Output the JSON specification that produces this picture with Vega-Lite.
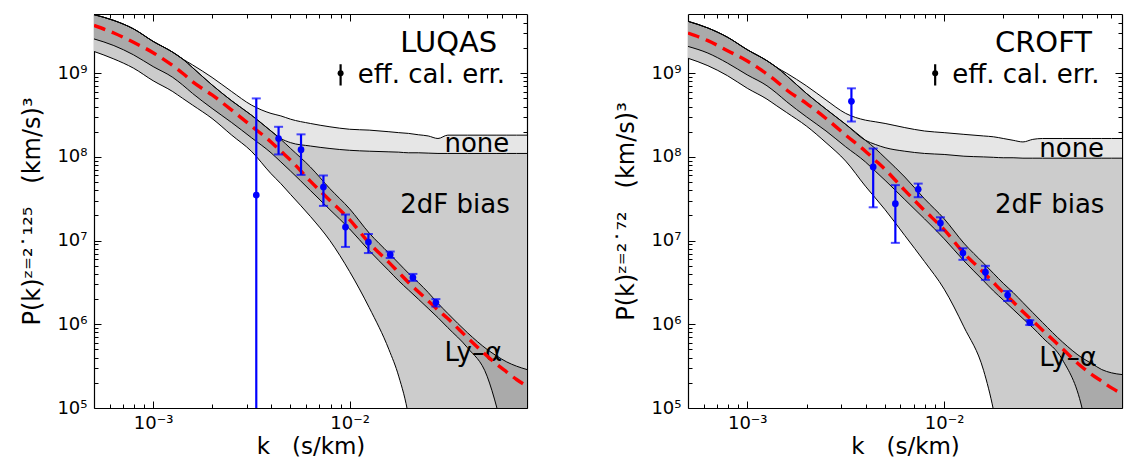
{
  "$schema": "https://vega.github.io/schema/vega-lite/v6.json",
  "background": "white",
  "padding": {"left": 20, "top": 13, "right": 2, "bottom": 0},
  "spacing": 86,
  "config": {
    "view": {"stroke": null},
    "font": "DejaVu Sans",
    "axis": {"grid": false, "domainColor": "black", "domainWidth": 1.2, "tickColor": "black", "tickWidth": 1, "labelColor": "black", "titleColor": "black", "labelFont": "DejaVu Sans", "titleFont": "DejaVu Sans", "labelFontSize": 18, "titleFontSize": 24, "titleFontWeight": "normal", "zindex": 1, "labelOverlap": false, "labelFlush": false}
  },
  "datasets": {
    "curvesL": [
      {"k":0.0005,"A":5.01e9,"B":5.01e9,"C":5.01e9,"D":2.57e9,"E":1.82e9,"R":3.72e9},
      {"k":0.000631,"A":4.27e9,"B":4.27e9,"C":4.27e9,"D":2.14e9,"E":1.48e9,"R":3.02e9},
      {"k":0.000794,"A":3.39e9,"B":3.39e9,"C":3.39e9,"D":1.66e9,"E":1.15e9,"R":2.34e9},
      {"k":0.001,"A":2.40e9,"B":2.40e9,"C":2.40e9,"D":1.20e9,"E":8.13e8,"R":1.76e9},
      {"k":0.001259,"A":1.78e9,"B":1.78e9,"C":1.78e9,"D":8.91e8,"E":6.03e8,"R":1.23e9},
      {"k":0.001413,"A":1.48e9,"B":1.48e9,"C":1.48e9,"D":7.24e8,"E":5.01e8,"R":1.00e9},
      {"k":0.001585,"A":1.26e9,"B":1.17e9,"C":1.17e9,"D":5.75e8,"E":4.17e8,"R":7.94e8},
      {"k":0.001995,"A":8.91e8,"B":7.24e8,"C":7.24e8,"D":3.80e8,"E":2.88e8,"R":5.50e8},
      {"k":0.002512,"A":6.03e8,"B":4.68e8,"C":4.68e8,"D":2.57e8,"E":1.82e8,"R":3.63e8},
      {"k":0.003162,"A":4.17e8,"B":3.16e8,"C":3.16e8,"D":1.70e8,"E":1.17e8,"R":2.34e8},
      {"k":0.003981,"A":3.31e8,"B":2.04e8,"C":2.04e8,"D":1.12e8,"E":6.31e7,"R":1.51e8},
      {"k":0.004467,"A":3.09e8,"B":1.66e8,"C":1.62e8,"D":8.71e7,"E":4.79e7,"R":1.17e8},
      {"k":0.005012,"A":2.82e8,"B":1.48e8,"C":1.26e8,"D":6.76e7,"E":3.55e7,"R":9.12e7},
      {"k":0.00631,"A":2.51e8,"B":1.35e8,"C":7.59e7,"D":3.98e7,"E":1.95e7,"R":5.13e7},
      {"k":0.007943,"A":2.29e8,"B":1.26e8,"C":4.17e7,"D":2.34e7,"E":1.00e7,"R":3.02e7},
      {"k":0.01,"A":2.14e8,"B":1.20e8,"C":2.40e7,"D":1.38e7,"E":4.27e6,"R":1.78e7},
      {"k":0.01259,"A":2.09e8,"B":1.17e8,"C":1.23e7,"D":7.59e6,"E":1.58e6,"R":9.33e6},
      {"k":0.01585,"A":2.00e8,"B":1.15e8,"C":7.08e6,"D":4.37e6,"E":5.01e5,"R":5.50e6},
      {"k":0.01778,"A":1.95e8,"B":1.14e8,"C":5.37e6,"D":3.31e6,"E":2.40e5,"R":4.17e6},
      {"k":0.01995,"A":1.91e8,"B":1.12e8,"C":4.07e6,"D":2.57e6,"E":7.94e4,"R":3.16e6},
      {"k":0.02239,"A":1.84e8,"B":1.12e8,"C":3.16e6,"D":2.00e6,"E":1.0e4,"R":2.45e6},
      {"k":0.02512,"A":1.78e8,"B":1.11e8,"C":2.40e6,"D":1.55e6,"E":1.0e3,"R":1.91e6},
      {"k":0.02818,"A":1.66e8,"B":1.10e8,"C":1.78e6,"D":1.20e6,"E":1.0e3,"R":1.48e6},
      {"k":0.03162,"A":1.82e8,"B":1.10e8,"C":1.35e6,"D":9.12e5,"E":1.0e3,"R":1.17e6},
      {"k":0.03981,"A":1.82e8,"B":1.10e8,"C":7.94e5,"D":5.25e5,"E":1.0e3,"R":6.92e5},
      {"k":0.05012,"A":1.82e8,"B":1.10e8,"C":5.01e5,"D":2.40e5,"E":1.0e3,"R":4.17e5},
      {"k":0.05623,"A":1.82e8,"B":1.10e8,"C":4.17e5,"D":1.0e5,"E":1.0e3,"R":3.31e5},
      {"k":0.0631,"A":1.82e8,"B":1.10e8,"C":3.55e5,"D":3.16e4,"E":1.0e3,"R":2.69e5},
      {"k":0.07079,"A":1.82e8,"B":1.10e8,"C":3.16e5,"D":6.31e3,"E":1.0e3,"R":2.19e5},
      {"k":0.08,"A":1.82e8,"B":1.10e8,"C":2.88e5,"D":1.0e3,"E":1.0e3,"R":1.82e5}
    ],
    "curvesR": [
      {"k":0.0005,"A":4.17e9,"B":4.17e9,"C":4.17e9,"D":2.09e9,"E":1.51e9,"R":3.02e9},
      {"k":0.000631,"A":3.47e9,"B":3.47e9,"C":3.47e9,"D":1.74e9,"E":1.23e9,"R":2.45e9},
      {"k":0.000794,"A":2.69e9,"B":2.69e9,"C":2.69e9,"D":1.32e9,"E":9.33e8,"R":1.86e9},
      {"k":0.001,"A":1.91e9,"B":1.91e9,"C":1.91e9,"D":9.55e8,"E":6.61e8,"R":1.40e9},
      {"k":0.001259,"A":1.41e9,"B":1.41e9,"C":1.41e9,"D":7.08e8,"E":4.90e8,"R":9.77e8},
      {"k":0.001413,"A":1.17e9,"B":1.17e9,"C":1.17e9,"D":5.75e8,"E":4.07e8,"R":7.94e8},
      {"k":0.001585,"A":1.00e9,"B":9.33e8,"C":9.33e8,"D":4.57e8,"E":3.39e8,"R":6.31e8},
      {"k":0.001995,"A":7.08e8,"B":5.75e8,"C":5.75e8,"D":3.02e8,"E":2.34e8,"R":4.37e8},
      {"k":0.002512,"A":4.79e8,"B":3.72e8,"C":3.72e8,"D":2.04e8,"E":1.48e8,"R":2.88e8},
      {"k":0.003162,"A":3.31e8,"B":2.45e8,"C":2.45e8,"D":1.32e8,"E":8.91e7,"R":1.82e8},
      {"k":0.003981,"A":2.75e8,"B":1.58e8,"C":1.58e8,"D":8.71e7,"E":4.47e7,"R":1.17e8},
      {"k":0.004467,"A":2.63e8,"B":1.41e8,"C":1.26e8,"D":6.76e7,"E":3.24e7,"R":9.12e7},
      {"k":0.005012,"A":2.51e8,"B":1.29e8,"C":9.77e7,"D":5.25e7,"E":2.34e7,"R":7.08e7},
      {"k":0.00631,"A":2.24e8,"B":1.17e8,"C":5.75e7,"D":3.09e7,"E":1.15e7,"R":3.98e7},
      {"k":0.007943,"A":2.04e8,"B":1.10e8,"C":3.16e7,"D":1.82e7,"E":5.62e6,"R":2.29e7},
      {"k":0.01,"A":1.95e8,"B":1.07e8,"C":1.82e7,"D":1.05e7,"E":2.63e6,"R":1.35e7},
      {"k":0.01259,"A":1.86e8,"B":1.02e8,"C":9.33e6,"D":5.75e6,"E":9.33e5,"R":7.08e6},
      {"k":0.01585,"A":1.78e8,"B":1.00e8,"C":5.37e6,"D":3.31e6,"E":2.82e5,"R":4.17e6},
      {"k":0.01778,"A":1.74e8,"B":9.89e7,"C":4.07e6,"D":2.51e6,"E":9.55e4,"R":3.16e6},
      {"k":0.01995,"A":1.66e8,"B":9.77e7,"C":3.09e6,"D":1.95e6,"E":2.0e4,"R":2.40e6},
      {"k":0.02239,"A":1.58e8,"B":9.77e7,"C":2.40e6,"D":1.51e6,"E":1.0e3,"R":1.86e6},
      {"k":0.02512,"A":1.51e8,"B":9.66e7,"C":1.82e6,"D":1.17e6,"E":1.0e3,"R":1.41e6},
      {"k":0.02818,"A":1.62e8,"B":9.66e7,"C":1.38e6,"D":9.12e5,"E":1.0e3,"R":1.10e6},
      {"k":0.03162,"A":1.66e8,"B":9.66e7,"C":1.05e6,"D":6.92e5,"E":1.0e3,"R":8.51e5},
      {"k":0.03981,"A":1.66e8,"B":9.66e7,"C":6.17e5,"D":3.80e5,"E":1.0e3,"R":5.13e5},
      {"k":0.05012,"A":1.66e8,"B":9.66e7,"C":3.98e5,"D":1.0e5,"E":1.0e3,"R":3.09e5},
      {"k":0.05623,"A":1.66e8,"B":9.66e7,"C":3.39e5,"D":2.51e4,"E":1.0e3,"R":2.51e5},
      {"k":0.0631,"A":1.66e8,"B":9.66e7,"C":2.88e5,"D":3.98e3,"E":1.0e3,"R":2.09e5},
      {"k":0.07079,"A":1.66e8,"B":9.66e7,"C":2.63e5,"D":1.0e3,"E":1.0e3,"R":1.74e5},
      {"k":0.08,"A":1.66e8,"B":9.66e7,"C":2.51e5,"D":1.0e3,"E":1.0e3,"R":1.48e5}
    ],
    "pointsL": [
      {"k":0.00335,"P":3.5e7,"lo":1e4,"hi":5.0e8},
      {"k":0.00435,"P":1.66e8,"lo":1.07e8,"hi":2.29e8},
      {"k":0.00566,"P":1.22e8,"lo":6.1e7,"hi":1.86e8},
      {"k":0.00736,"P":4.37e7,"lo":2.6e7,"hi":6.0e7},
      {"k":0.00953,"P":1.45e7,"lo":8.4e6,"hi":2.05e7},
      {"k":0.01247,"P":9.6e6,"lo":7.1e6,"hi":1.2e7},
      {"k":0.0161,"P":6.8e6,"lo":6.2e6,"hi":7.4e6},
      {"k":0.021,"P":3.63e6,"lo":3.3e6,"hi":4.0e6},
      {"k":0.0275,"P":1.82e6,"lo":1.63e6,"hi":2.0e6}
    ],
    "pointsR": [
      {"k":0.00338,"P":4.62e8,"lo":2.65e8,"hi":6.6e8},
      {"k":0.00436,"P":7.6e7,"lo":2.5e7,"hi":1.26e8},
      {"k":0.00565,"P":2.76e7,"lo":9.4e6,"hi":4.6e7},
      {"k":0.00738,"P":4.1e7,"lo":3.3e7,"hi":4.8e7},
      {"k":0.00957,"P":1.62e7,"lo":1.32e7,"hi":1.9e7},
      {"k":0.01245,"P":7.1e6,"lo":5.9e6,"hi":8.1e6},
      {"k":0.0162,"P":4.2e6,"lo":3.4e6,"hi":5.0e6},
      {"k":0.021,"P":2.24e6,"lo":1.9e6,"hi":2.5e6},
      {"k":0.0272,"P":1.05e6,"lo":0.98e6,"hi":1.12e6}
    ],
    "keysym": [{"k":0.009,"P":1.0e9,"lo":7.13e8,"hi":1.28e9}],
    "titleL": [{"k":0.0181,"P":1.81e9,"label":"LUQAS"}],
    "titleR": [{"k":0.0181,"P":1.81e9,"label":"CROFT"}],
    "labelsL": [
      {"k":0.01101,"P":7.6e8,"label":"eff. cal. err."},
      {"k":0.0304,"P":1.16e8,"label":"none"},
      {"k":0.0181,"P":2.11e7,"label":"2dF bias"},
      {"k":0.0304,"P":3.63e5,"label":"Ly–α"}
    ],
    "labelsR": [
      {"k":0.0110,"P":7.6e8,"label":"eff. cal. err."},
      {"k":0.0304,"P":1.01e8,"label":"none"},
      {"k":0.0181,"P":2.11e7,"label":"2dF bias"},
      {"k":0.0304,"P":3.16e5,"label":"Ly–α"}
    ]
  },
  "hconcat": [
    {
      "width": 433, "height": 394,
      "resolve": {"axis": {"x": "independent", "y": "independent"}},
      "layer": [
        {"data": {"name": "curvesL"}, "mark": {"type": "area", "clip": true, "interpolate": "monotone", "color": "#e6e6e6"},
         "encoding": {
           "x": {"field": "k", "type": "quantitative", "scale": {"type": "log", "domain": [0.0005, 0.08], "nice": false},
             "axis": {"orient": "bottom", "values": [0.0006,0.0007,0.0008,0.0009,0.001,0.002,0.003,0.004,0.005,0.006,0.007,0.008,0.009,0.01,0.02,0.03,0.04,0.05,0.06,0.07],
               "labelExpr": "abs(log(datum.value)/LN10 - round(log(datum.value)/LN10)) < 0.0001 ? '10⁻' + ['⁰','¹','²','³','⁴'][-round(log(datum.value)/LN10)] : ''",
               "tickSize": {"condition": {"test": "abs(log(datum.value)/LN10 - round(log(datum.value)/LN10)) < 0.0001", "value": -7}, "value": -4},
               "labelPadding": 13, "title": "k\u00a0\u00a0\u00a0(s/km)", "titlePadding": 0, "titleFontSize": 23}},
           "y": {"field": "A", "type": "quantitative", "scale": {"type": "log", "domain": [1e5, 5.1e9], "nice": false},
             "axis": {"orient": "left", "values": [1e5,2e5,3e5,4e5,5e5,6e5,7e5,8e5,9e5,1e6,2e6,3e6,4e6,5e6,6e6,7e6,8e6,9e6,1e7,2e7,3e7,4e7,5e7,6e7,7e7,8e7,9e7,1e8,2e8,3e8,4e8,5e8,6e8,7e8,8e8,9e8,1e9,2e9,3e9,4e9],
               "labelExpr": "abs(log(datum.value)/LN10 - round(log(datum.value)/LN10)) < 0.0001 ? '10' + ['⁰','¹','²','³','⁴','⁵','⁶','⁷','⁸','⁹'][round(log(datum.value)/LN10)] : ''",
               "tickSize": {"condition": {"test": "abs(log(datum.value)/LN10 - round(log(datum.value)/LN10)) < 0.0001", "value": -7}, "value": -4},
               "labelPadding": 14, "title": "P(k)ᶻ⁼²˙¹²⁵\u00a0\u00a0\u00a0(km/s)³", "titlePadding": 12}},
           "y2": {"field": "E"}
         }},
        {"data": {"name": "curvesL"}, "mark": {"type": "area", "clip": true, "interpolate": "monotone", "color": "#cccccc"},
         "encoding": {
           "x": {"field": "k", "type": "quantitative", "scale": {"type": "log", "domain": [0.0005, 0.08], "nice": false},
             "axis": {"orient": "top", "values": [0.0006,0.0007,0.0008,0.0009,0.001,0.002,0.003,0.004,0.005,0.006,0.007,0.008,0.009,0.01,0.02,0.03,0.04,0.05,0.06,0.07],
               "labels": false, "title": null,
               "tickSize": {"condition": {"test": "abs(log(datum.value)/LN10 - round(log(datum.value)/LN10)) < 0.0001", "value": -7}, "value": -4}}},
           "y": {"field": "B", "type": "quantitative", "scale": {"type": "log", "domain": [1e5, 5.1e9], "nice": false},
             "axis": {"orient": "right", "values": [1e5,2e5,3e5,4e5,5e5,6e5,7e5,8e5,9e5,1e6,2e6,3e6,4e6,5e6,6e6,7e6,8e6,9e6,1e7,2e7,3e7,4e7,5e7,6e7,7e7,8e7,9e7,1e8,2e8,3e8,4e8,5e8,6e8,7e8,8e8,9e8,1e9,2e9,3e9,4e9],
               "labels": false, "title": null,
               "tickSize": {"condition": {"test": "abs(log(datum.value)/LN10 - round(log(datum.value)/LN10)) < 0.0001", "value": -7}, "value": -4}}},
           "y2": {"field": "E"}
         }},
        {"data": {"name": "curvesL"}, "mark": {"type": "area", "clip": true, "interpolate": "monotone", "color": "#aaaaaa"},
         "encoding": {
           "x": {"field": "k", "type": "quantitative", "scale": {"type": "log", "domain": [0.0005, 0.08], "nice": false}, "axis": null},
           "y": {"field": "C", "type": "quantitative", "scale": {"type": "log", "domain": [1e5, 5.1e9], "nice": false}, "axis": null},
           "y2": {"field": "D"}
         }},
        {"data": {"name": "curvesL"}, "transform": [{"fold": ["A", "B", "C", "D", "E"], "as": ["curve", "val"]}],
         "mark": {"type": "line", "clip": true, "interpolate": "monotone", "color": "black", "strokeWidth": 1},
         "encoding": {
           "x": {"field": "k", "type": "quantitative", "scale": {"type": "log", "domain": [0.0005, 0.08], "nice": false}, "axis": null},
           "y": {"field": "val", "type": "quantitative", "scale": {"type": "log", "domain": [1e5, 5.1e9], "nice": false}, "axis": null},
           "detail": {"field": "curve"}
         }},
        {"data": {"name": "labelsL"}, "mark": {"type": "text", "align": "left", "baseline": "alphabetic", "fontSize": 26, "font": "DejaVu Sans", "color": "black"},
         "encoding": {
           "x": {"field": "k", "type": "quantitative", "scale": {"type": "log", "domain": [0.0005, 0.08], "nice": false}, "axis": null},
           "y": {"field": "P", "type": "quantitative", "scale": {"type": "log", "domain": [1e5, 5.1e9], "nice": false}, "axis": null},
           "text": {"field": "label"}
         }},
        {"data": {"name": "titleL"}, "mark": {"type": "text", "align": "left", "baseline": "alphabetic", "fontSize": 29, "font": "DejaVu Sans", "color": "black"},
         "encoding": {
           "x": {"field": "k", "type": "quantitative", "scale": {"type": "log", "domain": [0.0005, 0.08], "nice": false}, "axis": null},
           "y": {"field": "P", "type": "quantitative", "scale": {"type": "log", "domain": [1e5, 5.1e9], "nice": false}, "axis": null},
           "text": {"field": "label"}
         }},
        {"data": {"name": "curvesL"}, "mark": {"type": "line", "clip": true, "interpolate": "monotone", "color": "#ff0000", "strokeWidth": 3.4, "strokeDash": [12, 7]},
         "encoding": {
           "x": {"field": "k", "type": "quantitative", "scale": {"type": "log", "domain": [0.0005, 0.08], "nice": false}, "axis": null},
           "y": {"field": "R", "type": "quantitative", "scale": {"type": "log", "domain": [1e5, 5.1e9], "nice": false}, "axis": null}
         }},
        {"data": {"name": "pointsL"}, "mark": {"type": "rule", "clip": true, "color": "#0000ff", "strokeWidth": 2.2},
         "encoding": {
           "x": {"field": "k", "type": "quantitative", "scale": {"type": "log", "domain": [0.0005, 0.08], "nice": false}, "axis": null},
           "y": {"field": "lo", "type": "quantitative", "scale": {"type": "log", "domain": [1e5, 5.1e9], "nice": false}, "axis": null},
           "y2": {"field": "hi"}
         }},
        {"data": {"name": "pointsL"}, "mark": {"type": "tick", "orient": "horizontal", "clip": true, "color": "#0000ff", "thickness": 2, "size": 9},
         "encoding": {
           "x": {"field": "k", "type": "quantitative", "scale": {"type": "log", "domain": [0.0005, 0.08], "nice": false}, "axis": null},
           "y": {"field": "lo", "type": "quantitative", "scale": {"type": "log", "domain": [1e5, 5.1e9], "nice": false}, "axis": null}
         }},
        {"data": {"name": "pointsL"}, "mark": {"type": "tick", "orient": "horizontal", "clip": true, "color": "#0000ff", "thickness": 2, "size": 9},
         "encoding": {
           "x": {"field": "k", "type": "quantitative", "scale": {"type": "log", "domain": [0.0005, 0.08], "nice": false}, "axis": null},
           "y": {"field": "hi", "type": "quantitative", "scale": {"type": "log", "domain": [1e5, 5.1e9], "nice": false}, "axis": null}
         }},
        {"data": {"name": "pointsL"}, "mark": {"type": "point", "filled": true, "opacity": 1, "clip": true, "color": "#0000ff", "size": 45},
         "encoding": {
           "x": {"field": "k", "type": "quantitative", "scale": {"type": "log", "domain": [0.0005, 0.08], "nice": false}, "axis": null},
           "y": {"field": "P", "type": "quantitative", "scale": {"type": "log", "domain": [1e5, 5.1e9], "nice": false}, "axis": null}
         }},
        {"data": {"name": "keysym"}, "mark": {"type": "rule", "color": "black", "strokeWidth": 2.2},
         "encoding": {
           "x": {"field": "k", "type": "quantitative", "scale": {"type": "log", "domain": [0.0005, 0.08], "nice": false}, "axis": null},
           "y": {"field": "lo", "type": "quantitative", "scale": {"type": "log", "domain": [1e5, 5.1e9], "nice": false}, "axis": null},
           "y2": {"field": "hi"}
         }},
        {"data": {"name": "keysym"}, "mark": {"type": "point", "filled": true, "opacity": 1, "color": "black", "size": 36},
         "encoding": {
           "x": {"field": "k", "type": "quantitative", "scale": {"type": "log", "domain": [0.0005, 0.08], "nice": false}, "axis": null},
           "y": {"field": "P", "type": "quantitative", "scale": {"type": "log", "domain": [1e5, 5.1e9], "nice": false}, "axis": null}
         }}
      ]
    },
    {
      "width": 434, "height": 394,
      "resolve": {"axis": {"x": "independent", "y": "independent"}},
      "layer": [
        {"data": {"name": "curvesR"}, "mark": {"type": "area", "clip": true, "interpolate": "monotone", "color": "#e6e6e6"},
         "encoding": {
           "x": {"field": "k", "type": "quantitative", "scale": {"type": "log", "domain": [0.0005, 0.08], "nice": false},
             "axis": {"orient": "bottom", "values": [0.0006,0.0007,0.0008,0.0009,0.001,0.002,0.003,0.004,0.005,0.006,0.007,0.008,0.009,0.01,0.02,0.03,0.04,0.05,0.06,0.07],
               "labelExpr": "abs(log(datum.value)/LN10 - round(log(datum.value)/LN10)) < 0.0001 ? '10⁻' + ['⁰','¹','²','³','⁴'][-round(log(datum.value)/LN10)] : ''",
               "tickSize": {"condition": {"test": "abs(log(datum.value)/LN10 - round(log(datum.value)/LN10)) < 0.0001", "value": -7}, "value": -4},
               "labelPadding": 13, "title": "k\u00a0\u00a0\u00a0(s/km)", "titlePadding": 0, "titleFontSize": 23}},
           "y": {"field": "A", "type": "quantitative", "scale": {"type": "log", "domain": [1e5, 5.1e9], "nice": false},
             "axis": {"orient": "left", "values": [1e5,2e5,3e5,4e5,5e5,6e5,7e5,8e5,9e5,1e6,2e6,3e6,4e6,5e6,6e6,7e6,8e6,9e6,1e7,2e7,3e7,4e7,5e7,6e7,7e7,8e7,9e7,1e8,2e8,3e8,4e8,5e8,6e8,7e8,8e8,9e8,1e9,2e9,3e9,4e9],
               "labelExpr": "abs(log(datum.value)/LN10 - round(log(datum.value)/LN10)) < 0.0001 ? '10' + ['⁰','¹','²','³','⁴','⁵','⁶','⁷','⁸','⁹'][round(log(datum.value)/LN10)] : ''",
               "tickSize": {"condition": {"test": "abs(log(datum.value)/LN10 - round(log(datum.value)/LN10)) < 0.0001", "value": -7}, "value": -4},
               "labelPadding": 14, "title": "P(k)ᶻ⁼²˙⁷²\u00a0\u00a0\u00a0(km/s)³", "titlePadding": 12}},
           "y2": {"field": "E"}
         }},
        {"data": {"name": "curvesR"}, "mark": {"type": "area", "clip": true, "interpolate": "monotone", "color": "#cccccc"},
         "encoding": {
           "x": {"field": "k", "type": "quantitative", "scale": {"type": "log", "domain": [0.0005, 0.08], "nice": false},
             "axis": {"orient": "top", "values": [0.0006,0.0007,0.0008,0.0009,0.001,0.002,0.003,0.004,0.005,0.006,0.007,0.008,0.009,0.01,0.02,0.03,0.04,0.05,0.06,0.07],
               "labels": false, "title": null,
               "tickSize": {"condition": {"test": "abs(log(datum.value)/LN10 - round(log(datum.value)/LN10)) < 0.0001", "value": -7}, "value": -4}}},
           "y": {"field": "B", "type": "quantitative", "scale": {"type": "log", "domain": [1e5, 5.1e9], "nice": false},
             "axis": {"orient": "right", "values": [1e5,2e5,3e5,4e5,5e5,6e5,7e5,8e5,9e5,1e6,2e6,3e6,4e6,5e6,6e6,7e6,8e6,9e6,1e7,2e7,3e7,4e7,5e7,6e7,7e7,8e7,9e7,1e8,2e8,3e8,4e8,5e8,6e8,7e8,8e8,9e8,1e9,2e9,3e9,4e9],
               "labels": false, "title": null,
               "tickSize": {"condition": {"test": "abs(log(datum.value)/LN10 - round(log(datum.value)/LN10)) < 0.0001", "value": -7}, "value": -4}}},
           "y2": {"field": "E"}
         }},
        {"data": {"name": "curvesR"}, "mark": {"type": "area", "clip": true, "interpolate": "monotone", "color": "#aaaaaa"},
         "encoding": {
           "x": {"field": "k", "type": "quantitative", "scale": {"type": "log", "domain": [0.0005, 0.08], "nice": false}, "axis": null},
           "y": {"field": "C", "type": "quantitative", "scale": {"type": "log", "domain": [1e5, 5.1e9], "nice": false}, "axis": null},
           "y2": {"field": "D"}
         }},
        {"data": {"name": "curvesR"}, "transform": [{"fold": ["A", "B", "C", "D", "E"], "as": ["curve", "val"]}],
         "mark": {"type": "line", "clip": true, "interpolate": "monotone", "color": "black", "strokeWidth": 1},
         "encoding": {
           "x": {"field": "k", "type": "quantitative", "scale": {"type": "log", "domain": [0.0005, 0.08], "nice": false}, "axis": null},
           "y": {"field": "val", "type": "quantitative", "scale": {"type": "log", "domain": [1e5, 5.1e9], "nice": false}, "axis": null},
           "detail": {"field": "curve"}
         }},
        {"data": {"name": "labelsR"}, "mark": {"type": "text", "align": "left", "baseline": "alphabetic", "fontSize": 26, "font": "DejaVu Sans", "color": "black"},
         "encoding": {
           "x": {"field": "k", "type": "quantitative", "scale": {"type": "log", "domain": [0.0005, 0.08], "nice": false}, "axis": null},
           "y": {"field": "P", "type": "quantitative", "scale": {"type": "log", "domain": [1e5, 5.1e9], "nice": false}, "axis": null},
           "text": {"field": "label"}
         }},
        {"data": {"name": "titleR"}, "mark": {"type": "text", "align": "left", "baseline": "alphabetic", "fontSize": 29, "font": "DejaVu Sans", "color": "black"},
         "encoding": {
           "x": {"field": "k", "type": "quantitative", "scale": {"type": "log", "domain": [0.0005, 0.08], "nice": false}, "axis": null},
           "y": {"field": "P", "type": "quantitative", "scale": {"type": "log", "domain": [1e5, 5.1e9], "nice": false}, "axis": null},
           "text": {"field": "label"}
         }},
        {"data": {"name": "curvesR"}, "mark": {"type": "line", "clip": true, "interpolate": "monotone", "color": "#ff0000", "strokeWidth": 3.4, "strokeDash": [12, 7]},
         "encoding": {
           "x": {"field": "k", "type": "quantitative", "scale": {"type": "log", "domain": [0.0005, 0.08], "nice": false}, "axis": null},
           "y": {"field": "R", "type": "quantitative", "scale": {"type": "log", "domain": [1e5, 5.1e9], "nice": false}, "axis": null}
         }},
        {"data": {"name": "pointsR"}, "mark": {"type": "rule", "clip": true, "color": "#0000ff", "strokeWidth": 2.2},
         "encoding": {
           "x": {"field": "k", "type": "quantitative", "scale": {"type": "log", "domain": [0.0005, 0.08], "nice": false}, "axis": null},
           "y": {"field": "lo", "type": "quantitative", "scale": {"type": "log", "domain": [1e5, 5.1e9], "nice": false}, "axis": null},
           "y2": {"field": "hi"}
         }},
        {"data": {"name": "pointsR"}, "mark": {"type": "tick", "orient": "horizontal", "clip": true, "color": "#0000ff", "thickness": 2, "size": 9},
         "encoding": {
           "x": {"field": "k", "type": "quantitative", "scale": {"type": "log", "domain": [0.0005, 0.08], "nice": false}, "axis": null},
           "y": {"field": "lo", "type": "quantitative", "scale": {"type": "log", "domain": [1e5, 5.1e9], "nice": false}, "axis": null}
         }},
        {"data": {"name": "pointsR"}, "mark": {"type": "tick", "orient": "horizontal", "clip": true, "color": "#0000ff", "thickness": 2, "size": 9},
         "encoding": {
           "x": {"field": "k", "type": "quantitative", "scale": {"type": "log", "domain": [0.0005, 0.08], "nice": false}, "axis": null},
           "y": {"field": "hi", "type": "quantitative", "scale": {"type": "log", "domain": [1e5, 5.1e9], "nice": false}, "axis": null}
         }},
        {"data": {"name": "pointsR"}, "mark": {"type": "point", "filled": true, "opacity": 1, "clip": true, "color": "#0000ff", "size": 45},
         "encoding": {
           "x": {"field": "k", "type": "quantitative", "scale": {"type": "log", "domain": [0.0005, 0.08], "nice": false}, "axis": null},
           "y": {"field": "P", "type": "quantitative", "scale": {"type": "log", "domain": [1e5, 5.1e9], "nice": false}, "axis": null}
         }},
        {"data": {"name": "keysym"}, "mark": {"type": "rule", "color": "black", "strokeWidth": 2.2},
         "encoding": {
           "x": {"field": "k", "type": "quantitative", "scale": {"type": "log", "domain": [0.0005, 0.08], "nice": false}, "axis": null},
           "y": {"field": "lo", "type": "quantitative", "scale": {"type": "log", "domain": [1e5, 5.1e9], "nice": false}, "axis": null},
           "y2": {"field": "hi"}
         }},
        {"data": {"name": "keysym"}, "mark": {"type": "point", "filled": true, "opacity": 1, "color": "black", "size": 36},
         "encoding": {
           "x": {"field": "k", "type": "quantitative", "scale": {"type": "log", "domain": [0.0005, 0.08], "nice": false}, "axis": null},
           "y": {"field": "P", "type": "quantitative", "scale": {"type": "log", "domain": [1e5, 5.1e9], "nice": false}, "axis": null}
         }}
      ]
    }
  ]
}
